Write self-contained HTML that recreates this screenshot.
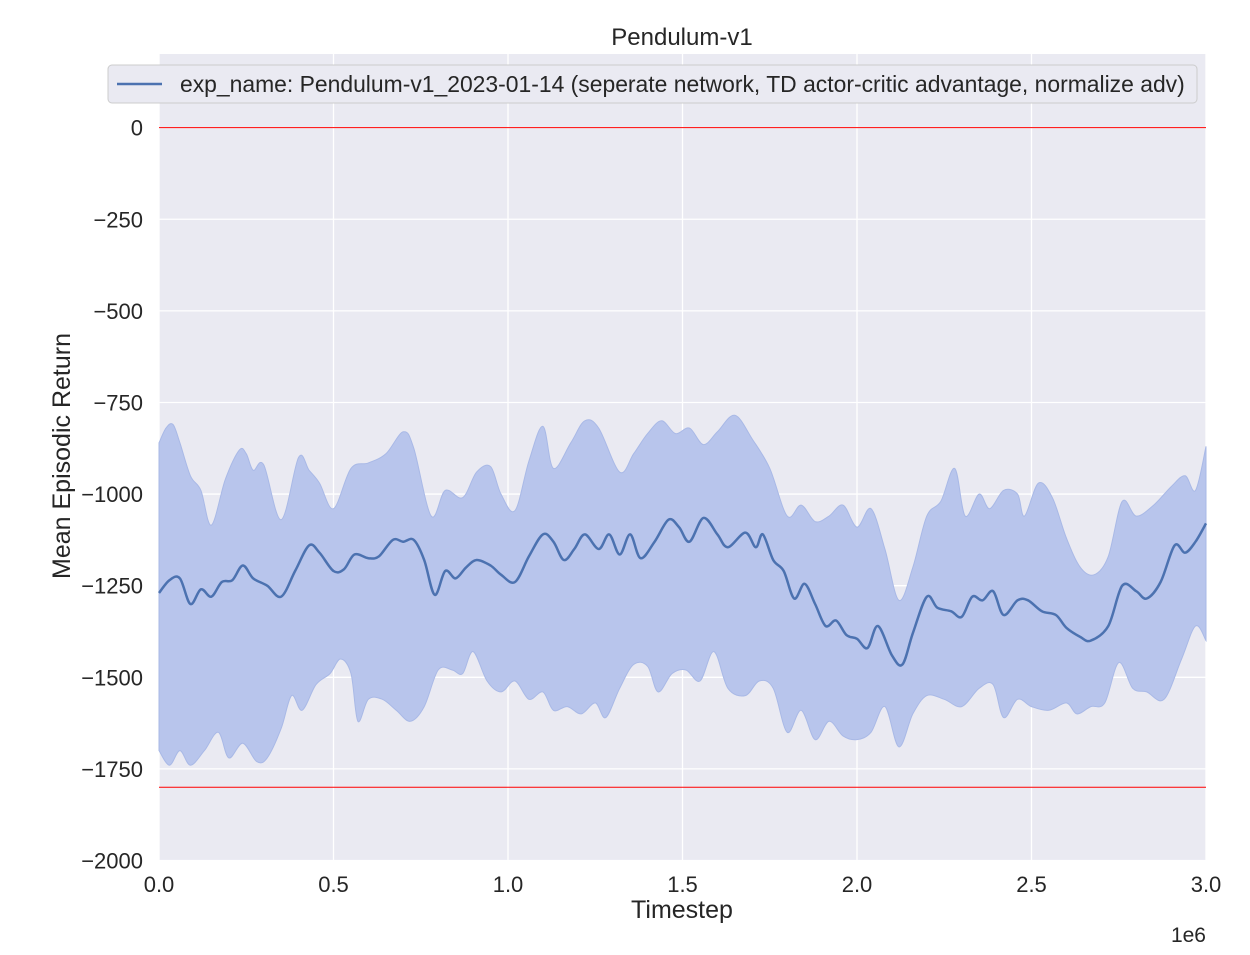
<!DOCTYPE html>
<html><head><meta charset="utf-8"><style>
html,body{margin:0;padding:0;background:#fff;}
svg text{font-family:"Liberation Sans",sans-serif;fill:#262626;}
</style></head><body>
<svg id="chart" width="1250" height="950" xmlns="http://www.w3.org/2000/svg">
<rect x="159" y="54" width="1047" height="806" fill="#eaeaf2"/>
<g id="grid"></g>
<g id="band"></g>
<g id="lines"></g>
<g id="ticks"></g>
<text x="682" y="45" font-size="24" text-anchor="middle">Pendulum-v1</text>
<text x="682" y="918" font-size="25" text-anchor="middle">Timestep</text>
<text x="1206" y="942" font-size="21" text-anchor="end">1e6</text>
<text transform="translate(70,456) rotate(-90)" font-size="25" text-anchor="middle">Mean Episodic Return</text>
<g>
<rect x="108" y="65" width="1089" height="38" rx="4" fill="#eaeaf2" stroke="#cccccc"/>
<line x1="117" y1="84" x2="162" y2="84" stroke="#4c72b0" stroke-width="2.5"/>
<text x="180" y="92" font-size="22.9">exp_name: Pendulum-v1_2023-01-14 (seperate network, TD actor-critic advantage, normalize adv)</text>
</g>
</svg>
<script>
const meanX=[0,0.03,0.06,0.09,0.12,0.15,0.18,0.21,0.24,0.27,0.31,0.35,0.39,0.43,0.46,0.5,0.53,0.56,0.6,0.63,0.67,0.7,0.73,0.76,0.79,0.82,0.85,0.88,0.91,0.95,0.98,1.02,1.06,1.1,1.13,1.16,1.19,1.22,1.26,1.29,1.32,1.35,1.38,1.42,1.46,1.49,1.52,1.56,1.6,1.63,1.68,1.71,1.73,1.76,1.79,1.82,1.85,1.88,1.91,1.94,1.97,2.0,2.03,2.06,2.1,2.13,2.16,2.2,2.23,2.27,2.3,2.33,2.36,2.39,2.42,2.46,2.49,2.53,2.57,2.6,2.64,2.67,2.72,2.76,2.8,2.83,2.87,2.91,2.94,2.97,3.0];
const meanY=[-1270,-1235,-1230,-1300,-1260,-1280,-1240,-1235,-1195,-1230,-1250,-1280,-1210,-1140,-1160,-1210,-1205,-1165,-1175,-1170,-1125,-1130,-1125,-1180,-1275,-1210,-1230,-1200,-1180,-1195,-1220,-1240,-1170,-1110,-1130,-1180,-1150,-1110,-1150,-1110,-1165,-1110,-1175,-1130,-1070,-1090,-1130,-1065,-1110,-1145,-1105,-1145,-1110,-1180,-1210,-1285,-1245,-1300,-1360,-1345,-1385,-1395,-1420,-1360,-1440,-1465,-1380,-1280,-1310,-1320,-1335,-1280,-1290,-1265,-1330,-1290,-1290,-1320,-1330,-1365,-1390,-1400,-1360,-1250,-1265,-1285,-1240,-1140,-1160,-1130,-1080];
const upX=[0,0.02,0.04,0.06,0.09,0.12,0.15,0.19,0.23,0.25,0.27,0.3,0.35,0.4,0.43,0.46,0.5,0.55,0.6,0.65,0.7,0.73,0.78,0.82,0.87,0.91,0.95,0.98,1.02,1.06,1.1,1.13,1.18,1.22,1.26,1.32,1.36,1.4,1.44,1.48,1.52,1.56,1.6,1.65,1.7,1.75,1.8,1.84,1.88,1.92,1.96,2.0,2.04,2.08,2.12,2.16,2.2,2.24,2.28,2.31,2.35,2.38,2.42,2.46,2.48,2.52,2.56,2.6,2.64,2.68,2.72,2.76,2.8,2.85,2.9,2.94,2.97,3.0];
const upY=[-860,-820,-810,-860,-950,-990,-1085,-960,-880,-890,-935,-920,-1070,-900,-935,-970,-1040,-930,-915,-890,-830,-875,-1060,-990,-1010,-940,-925,-1000,-1045,-910,-815,-930,-860,-800,-820,-940,-890,-835,-800,-835,-820,-865,-830,-785,-850,-930,-1060,-1030,-1075,-1060,-1030,-1090,-1040,-1150,-1290,-1200,-1060,-1020,-930,-1060,-1000,-1040,-990,-1000,-1060,-970,-1010,-1120,-1200,-1220,-1170,-1020,-1060,-1030,-980,-950,-990,-870];
const loX=[0,0.03,0.06,0.09,0.13,0.17,0.2,0.24,0.28,0.31,0.35,0.38,0.41,0.45,0.49,0.52,0.55,0.57,0.6,0.64,0.68,0.72,0.76,0.8,0.84,0.87,0.9,0.94,0.98,1.02,1.06,1.1,1.13,1.17,1.21,1.25,1.28,1.32,1.36,1.4,1.43,1.47,1.51,1.55,1.59,1.63,1.68,1.72,1.76,1.8,1.84,1.88,1.92,1.96,2.0,2.04,2.08,2.12,2.16,2.2,2.25,2.3,2.35,2.39,2.42,2.46,2.5,2.55,2.6,2.63,2.67,2.71,2.75,2.79,2.83,2.88,2.93,2.97,3.0];
const loY=[-1700,-1740,-1700,-1740,-1700,-1650,-1720,-1680,-1730,-1720,-1640,-1550,-1590,-1520,-1490,-1450,-1490,-1620,-1560,-1560,-1590,-1620,-1580,-1480,-1480,-1490,-1430,-1510,-1540,-1510,-1560,-1540,-1590,-1580,-1600,-1570,-1610,-1530,-1465,-1470,-1540,-1490,-1480,-1510,-1430,-1530,-1550,-1510,-1530,-1650,-1590,-1670,-1620,-1660,-1670,-1650,-1580,-1690,-1600,-1550,-1560,-1580,-1530,-1520,-1610,-1560,-1580,-1590,-1570,-1600,-1580,-1570,-1460,-1530,-1540,-1560,-1450,-1360,-1400];
const xTicks=[0,0.5,1.0,1.5,2.0,2.5,3.0];
const yTicks=[0,-250,-500,-750,-1000,-1250,-1500,-1750,-2000];
const refLines=[0,-1800];

const X0=159,X1=1206,Y0=860.5,Y1=54,XMIN=0,XMAX=3,YMIN=-2000,YMAX=201;
const sx=v=>X0+(v-XMIN)/(XMAX-XMIN)*(X1-X0);
const sy=v=>Y0-(v-YMIN)/(YMAX-YMIN)*(Y0-Y1);
const NS='http://www.w3.org/2000/svg';
function mk(t,a,p){const e=document.createElementNS(NS,t);for(const k in a)e.setAttribute(k,a[k]);p.appendChild(e);return e;}
function smooth(xs,ys,move){
  const P=xs.map((x,i)=>[sx(x),sy(ys[i])]);
  let d=(move?'M':'L')+P[0][0].toFixed(1)+','+P[0][1].toFixed(1);
  for(let i=0;i<P.length-1;i++){
    const p0=P[Math.max(0,i-1)],p1=P[i],p2=P[i+1],p3=P[Math.min(P.length-1,i+2)];
    const c1=[p1[0]+(p2[0]-p0[0])/6,p1[1]+(p2[1]-p0[1])/6];
    const c2=[p2[0]-(p3[0]-p1[0])/6,p2[1]-(p3[1]-p1[1])/6];
    d+='C'+c1.map(v=>v.toFixed(1))+' '+c2.map(v=>v.toFixed(1))+' '+p2.map(v=>v.toFixed(1));
  }
  return d;
}
const grid=document.getElementById('grid'),ticks=document.getElementById('ticks');
xTicks.forEach(v=>{
  const l=mk('line',{x1:sx(v),x2:sx(v),y1:Y1,y2:Y0,stroke:'#fff','stroke-width':1.3},grid);
  
  
  const t=mk('text',{x:sx(v),y:892,'font-size':22,'text-anchor':'middle'},ticks);
  t.textContent=v.toFixed(1);
  
  
});
yTicks.forEach(v=>{
  const l=mk('line',{x1:X0,x2:X1,y1:sy(v),y2:sy(v),stroke:'#fff','stroke-width':1.3},grid);
  
  
  const t=mk('text',{x:143,y:sy(v)+8,'font-size':22,'text-anchor':'end'},ticks);
  t.textContent=v<0?'\u2212'+(-v):String(v);
  
  
});
const band=document.getElementById('band');
const rx=loX.slice().reverse(),ry=loY.slice().reverse();
const bp=mk('path',{d:smooth(upX,upY,true)+smooth(rx,ry,false)+'Z',fill:'#b8c5ec',stroke:'#a9b9e6','stroke-width':1},band);


const lines=document.getElementById('lines');
refLines.forEach(v=>{
  const l=mk('line',{x1:X0,x2:X1,y1:sy(v),y2:sy(v),stroke:'#ff0000','stroke-width':1},lines);
  
  
});
const ml=mk('path',{d:smooth(meanX,meanY,true),fill:'none',stroke:'#4c72b0','stroke-width':2.5},lines);


</script>
</body></html>
